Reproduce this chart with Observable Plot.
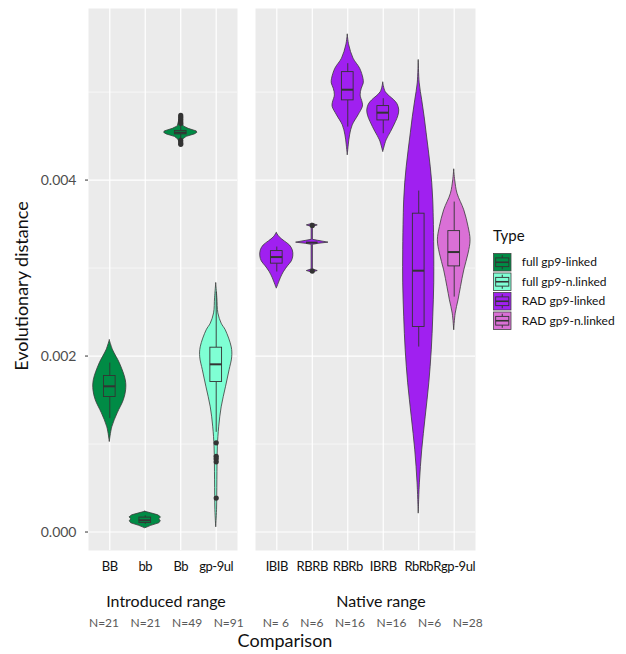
<!DOCTYPE html>
<html>
<head>
<meta charset="utf-8">
<script src="https://cdn.jsdelivr.net/npm/d3@7"></script>
<script src="https://cdn.jsdelivr.net/npm/@observablehq/plot@0.6"></script>
<style>
  html, body { margin: 0; padding: 0; background: #fff; }
  #chart { position: relative; width: 626px; height: 654px; font-family: Lato, "Open Sans", sans-serif; }
  #chart > div, #chart > svg { position: absolute; top: 0; }
  #p1 { left: 0; }
  #p2 { left: 255px; }
  #overlay { left: 0; pointer-events: none; }
  g[aria-label="x-axis tick label"] text { letter-spacing: -0.45px; }
</style>
</head>
<body>
<div id="chart">
  <div id="p1"></div>
  <div id="p2"></div>
  <svg id="overlay" width="626" height="654"></svg>
</div>
<script>
// ---------- data ----------
const introCats = ["BB", "bb", "Bb", "gp-9ul"];
const nativeCats = ["IBIB", "RBRB", "RBRb", "IBRB", "RbRb", "Rgp-9ul"];
const introN = ["N=21", "N=21", "N=49", "N=91"];
const nativeN = ["N= 6", "N=6", "N=16", "N=16", "N=6", "N=28"];
const types = ["full gp9-linked", "full gp9-n.linked", "RAD gp9-linked", "RAD gp9-n.linked"];
const typeColors = ["#008B45", "#7FFFD4", "#A020F0", "#DA70D6"];
const introTypes = ["full gp9-linked", "full gp9-linked", "full gp9-linked", "full gp9-n.linked"];
const nativeTypes = ["RAD gp9-linked", "RAD gp9-linked", "RAD gp9-linked", "RAD gp9-linked", "RAD gp9-linked", "RAD gp9-n.linked"];
const majorTicks = [0, 0.002, 0.004];
const minorTicks = [0.001, 0.003, 0.005];

// violin profiles: [distance, relative density width]
const profBB = [[0.002178,0],[0.002065,0.2],[0.001917,0.61],[0.001724,0.97],[0.001610,0.99],[0.001497,0.85],[0.001349,0.48],[0.001190,0.15],[0.001023,0]];
const profbb = [[0.000230,0],[0.0002125,0.36],[0.000190,0.79],[0.000167,0.95],[0.000144,0.85],[0.000122,0.94],[0.000099,0.85],[0.000070,0.36],[0.000042,0]];
const profBb = [[0.004735,0],[0.004678,0.09],[0.004610,0.18],[0.004582,0.48],[0.004553,0.97],[0.004536,1.0],[0.004519,0.85],[0.004491,0.36],[0.004462,0.15],[0.004394,0]];
const profGp9ul = [[0.002826,0],[0.002656,0.07],[0.002485,0.13],[0.002368,0.33],[0.002292,0.58],[0.002099,0.94],[0.001985,0.97],[0.001838,0.81],[0.001645,0.59],[0.001417,0.33],[0.001190,0.18],[0.000963,0.10],[0.000588,0.07],[0.000247,0.05],[0.000053,0]];
const profIBIB = [[0.003398,0],[0.003349,0.18],[0.003303,0.48],[0.003258,0.79],[0.003201,0.97],[0.003133,1.0],[0.003076,0.91],[0.003019,0.67],[0.002951,0.42],[0.002883,0.24],[0.002826,0.12],[0.002766,0]];
const profRBRB = [[0.003502,0],[0.003485,0.33],[0.003468,0.04],[0.003321,0.04],[0.003310,0.36],[0.003289,0.98],[0.003275,0.36],[0.003264,0.04],[0.002985,0.04],[0.002966,0.33],[0.002949,0]];
const profRBRb = [[0.005652,0],[0.005531,0.09],[0.005380,0.35],[0.005266,0.75],[0.005152,0.95],[0.005099,0.97],[0.005039,0.85],[0.004962,0.78],[0.004880,0.9],[0.004835,0.92],[0.004735,0.65],[0.004622,0.30],[0.004508,0.14],[0.004394,0.06],[0.004281,0]];
const profIBRB = [[0.005107,0],[0.005000,0.15],[0.004906,0.67],[0.004860,0.87],[0.004792,0.97],[0.004724,0.91],[0.004659,0.77],[0.004545,0.47],[0.004451,0.20],[0.004318,0]];
const profRbRb = [[0.005360,0],[0.005099,0.06],[0.004906,0.21],[0.004713,0.36],[0.004531,0.48],[0.004338,0.61],[0.004145,0.73],[0.003963,0.82],[0.003769,0.88],[0.003576,0.91],[0.003201,0.94],[0.002826,0.94],[0.002440,0.88],[0.002065,0.79],[0.001690,0.64],[0.001303,0.42],[0.000928,0.21],[0.000553,0.07],[0.000209,0]];
const profRgp9ul = [[0.004118,0],[0.003997,0.06],[0.003845,0.2],[0.003656,0.61],[0.003466,0.87],[0.003315,0.99],[0.003164,0.87],[0.002974,0.61],[0.002784,0.41],[0.002633,0.26],[0.002482,0.09],[0.002292,0]];

// box stats: [lower whisker, Q1, median, Q3, upper whisker]
const introBox = [
  [0.001289, 0.001534, 0.001656, 0.001773, 0.001920],
  [0.000085, 0.000102, 0.000133, 0.000164, 0.000185],
  [0.004470, 0.004519, 0.004539, 0.004559, 0.004620],
  [0.001133, 0.001705, 0.001906, 0.002095, 0.002724]
];
const nativeBox = [
  [0.002955, 0.003050, 0.003125, 0.003193, 0.003239],
  [0.003289, 0.003289, 0.003289, 0.003289, 0.003289],
  [0.004602, 0.004906, 0.005027, 0.005227, 0.005323],
  [0.004527, 0.004678, 0.004766, 0.004841, 0.004925],
  [0.002102, 0.002330, 0.002970, 0.003618, 0.003875],
  [0.002670, 0.003019, 0.003182, 0.003420, 0.003750]
];
const introOutliers = [[], [], [0.004735, 0.004713, 0.004690, 0.004667, 0.004645, 0.004451, 0.004423, 0.004406], [0.001014, 0.000860, 0.000832, 0.000798, 0.000386]];
const nativeOutliers = [[], [0.003485, 0.002966], [], [], [], []];

// ---------- drawing ----------
const VW = 0.465;   // max violin half-width (category units)
const BOXW = 0.165; // box half-width
const linearCats = ["bb", "Bb", "RBRB"];
const yDomain = [-0.00021, 0.00595];

function panel(cats, ctypes, profiles, boxes, outliers, showY, width, marginLeft) {
  const idx = cats.map((c, i) => i + 1);
  const vrows = profiles.flatMap((p, i) => p.map(([v, d]) => ({cat: cats[i], i: i + 1, type: ctypes[i], v, d})));
  const brows = boxes.map((b, i) => ({i: i + 1, type: ctypes[i], lo: b[0], q1: b[1], med: b[2], q3: b[3], hi: b[4]}));
  const orows = outliers.flatMap((o, i) => o.map(v => ({i: i + 1, v})));
  const vopts = (curve) => ({y: "v", x1: d => d.i - d.d * VW, x2: d => d.i + d.d * VW, z: "cat", fill: "type", stroke: "#3a3a3a", strokeWidth: 0.8, curve});
  const marks = [
    Plot.frame({fill: "#EBEBEB"}),
    Plot.ruleY(minorTicks, {stroke: "white", strokeWidth: 0.6}),
    Plot.ruleY(majorTicks, {stroke: "white", strokeWidth: 1.2}),
    Plot.ruleX(idx, {stroke: "white", strokeWidth: 1.2}),
    Plot.areaX(vrows.filter(d => !linearCats.includes(d.cat)), vopts("catmull-rom")),
    Plot.areaX(vrows.filter(d => linearCats.includes(d.cat)), vopts("linear")),
    Plot.ruleX(brows, {x: "i", y1: "lo", y2: "q1", stroke: "#333", strokeWidth: 0.9}),
    Plot.ruleX(brows, {x: "i", y1: "q3", y2: "hi", stroke: "#333", strokeWidth: 0.9}),
    Plot.rect(brows, {x1: d => d.i - BOXW, x2: d => d.i + BOXW, y1: "q1", y2: "q3", fill: "type", stroke: "#333", strokeWidth: 0.9}),
    Plot.ruleY(brows, {y: "med", x1: d => d.i - BOXW, x2: d => d.i + BOXW, stroke: "#333", strokeWidth: 2}),
    Plot.dot(orows, {x: "i", y: "v", r: 2.6, fill: "#333"}),
    Plot.axisX({ticks: idx, tickFormat: i => cats[i - 1], tickSize: 0, tickPadding: 11, fontSize: 13, fill: "#111", label: null})
  ];
  if (showY) marks.push(Plot.axisY({ticks: majorTicks, tickFormat: d3.format(".3f"), tickSize: 3, tickPadding: 9, fontSize: 14, stroke: "#333", fill: "#4D4D4D", label: null}));
  return Plot.plot({
    width, height: 580,
    marginLeft, marginRight: 0, marginTop: 8, marginBottom: 30,
    style: {fontFamily: "Lato, 'Open Sans', sans-serif", background: "transparent", overflow: "visible"},
    x: {domain: [0.4, cats.length + 0.6]},
    y: {domain: yDomain, axis: showY ? undefined : null},
    color: {domain: types, range: typeColors},
    marks
  });
}

document.getElementById("p1").append(panel(introCats, introTypes, [profBB, profbb, profBb, profGp9ul], introBox, introOutliers, true, 237, 88));
document.getElementById("p2").append(panel(nativeCats, nativeTypes, [profIBIB, profRBRB, profRBRb, profIBRB, profRbRb, profRgp9ul], nativeBox, nativeOutliers, false, 220, 0));

// ---------- annotations ----------
const ov = d3.select("#overlay").style("font-family", "Lato, 'Open Sans', sans-serif");
ov.append("text").attr("transform", "translate(28,286) rotate(-90)").attr("text-anchor", "middle")
  .attr("font-size", 18).attr("fill", "#111").text("Evolutionary distance");
ov.append("text").attr("x", 166).attr("y", 606.5).attr("text-anchor", "middle").attr("font-size", 16).attr("fill", "#111").text("Introduced range");
ov.append("text").attr("x", 381).attr("y", 606.5).attr("text-anchor", "middle").attr("font-size", 16).attr("fill", "#111").text("Native range");
ov.append("text").attr("x", 285).attr("y", 646.5).attr("text-anchor", "middle").attr("font-size", 18).attr("fill", "#111").text("Comparison");

function nRow(labels, x0) {
  let x = x0;
  labels.forEach(l => {
    const t = ov.append("text").attr("x", x).attr("y", 626.5).attr("font-size", 12).attr("fill", "#595959")
      .style("white-space", "pre").text(l);
    x += t.node().getComputedTextLength() + 11.5;
  });
}
nRow(introN, 89);
nRow(nativeN, 262.7);

// legend
const lg = ov.append("g");
lg.append("text").attr("x", 493).attr("y", 241).attr("font-size", 15).attr("fill", "#111").text("Type");
const K = 17.5;
types.forEach((t, i) => {
  const g = lg.append("g").attr("transform", `translate(493.5,${253.5 + i * 19.5})`);
  g.append("rect").attr("width", K).attr("height", K).attr("fill", typeColors[i]).attr("stroke", "#444").attr("stroke-width", 0.8);
  g.append("line").attr("x1", K / 2).attr("x2", K / 2).attr("y1", K * 0.1).attr("y2", K * 0.25).attr("stroke", "#333");
  g.append("line").attr("x1", K / 2).attr("x2", K / 2).attr("y1", K * 0.75).attr("y2", K * 0.9).attr("stroke", "#333");
  g.append("rect").attr("x", K * 0.125).attr("y", K * 0.25).attr("width", K * 0.75).attr("height", K * 0.5)
    .attr("fill", typeColors[i]).attr("stroke", "#333").attr("stroke-width", 0.9);
  g.append("line").attr("x1", K * 0.125).attr("x2", K * 0.875).attr("y1", K / 2).attr("y2", K / 2).attr("stroke", "#333").attr("stroke-width", 1.6);
  lg.append("text").attr("x", 521.7).attr("y", 253.5 + i * 19.5 + K / 2).attr("dy", "0.35em")
    .attr("font-size", 12).attr("fill", "#111").text(t);
});
</script>
</body>
</html>
